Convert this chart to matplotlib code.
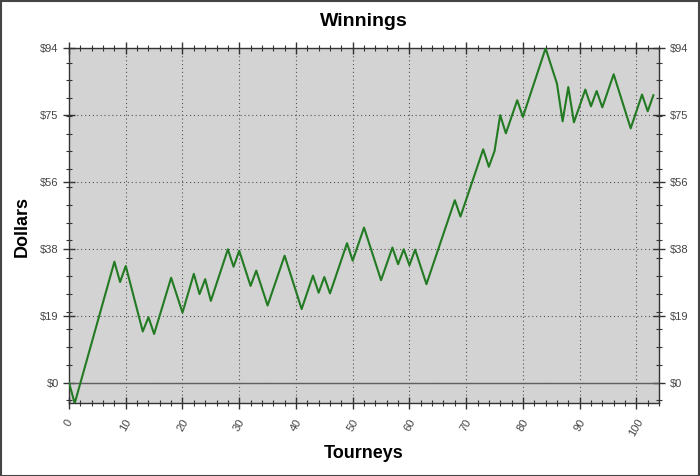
import matplotlib
matplotlib.use('Agg')
import matplotlib.pyplot as plt
from matplotlib.ticker import MultipleLocator, FixedLocator
from matplotlib.patches import Rectangle

# turning points of the winnings line (tourney number, running total in $)
tourneys = [0, 1, 8, 9, 10, 13, 14, 15, 18, 20, 22, 23, 24, 25, 28, 29, 30, 32, 33, 35,
            38, 41, 43, 44, 45, 46, 49, 50, 52, 55, 57, 58, 59, 60, 61, 63, 68, 69, 73, 74,
            75, 76, 77, 79, 80, 84, 86, 87, 88, 89, 91, 92, 93, 94, 96, 99, 101, 102, 103]
winnings = [0, -5.8, 34.0, 28.3, 32.8, 14.4, 18.4, 13.7, 29.5, 19.7, 30.6, 24.9, 29.1, 23.0,
            37.5, 32.6, 37.1, 27.2, 31.5, 21.7, 35.7, 20.7, 30.1, 25.3, 29.7, 25.1, 39.2, 34.3,
            43.6, 28.8, 38.0, 33.3, 37.5, 33.0, 37.4, 27.7, 51.3, 46.7, 65.6, 60.7, 65.1, 75.2,
            70.1, 79.4, 74.7, 94.0, 84.1, 73.5, 83.1, 73.2, 82.4, 77.7, 82.0, 77.4, 86.7, 71.5,
            81.0, 76.3, 80.8]

y_ticks = [0, 18.8, 37.6, 56.4, 75.2, 94]
y_labels = ["$0", "$19", "$38", "$56", "$75", "$94"]
x_ticks = [0, 10, 20, 30, 40, 50, 60, 70, 80, 90, 100]

plt.rcParams['font.family'] = ['Liberation Sans', 'DejaVu Sans']

fig = plt.figure(figsize=(7, 4.76), dpi=100)
ax = fig.add_axes([0.0986, 0.1527, 0.8429, 0.7458])
ax.set_facecolor('#d3d3d3')

# frame around the whole picture
fig.patches.append(Rectangle((0.001, 0.001), 0.997, 0.997, transform=fig.transFigure,
                             fill=False, edgecolor='#444444', linewidth=1.5))

ax.set_xlim(0, 104)
ax.set_ylim(-5.8, 94)

ax.axhline(0, color='#606060', linewidth=1.0, zorder=1)
ax.plot(tourneys, winnings, color='#227a22', linewidth=1.5, zorder=3)

ax.xaxis.set_major_locator(FixedLocator(x_ticks))
ax.xaxis.set_minor_locator(MultipleLocator(2))
ax.yaxis.set_major_locator(FixedLocator(y_ticks))
ax.yaxis.set_minor_locator(MultipleLocator(5))
ax.set_yticklabels(y_labels)
ax.set_xticklabels([str(x) for x in x_ticks], rotation=60, ha='center', va='top')

ax.grid(True, which='major', color='#555555', linestyle=(0, (1, 2.5)), linewidth=0.8)
ax.set_axisbelow(True)

ax.tick_params(which='both', direction='inout', top=True, right=True,
               labelright=True, colors='#333333', labelcolor='#444444', labelsize=8)
ax.tick_params(which='major', length=8, width=1)
ax.tick_params(which='minor', length=5, width=0.8)
ax.tick_params(axis='x', which='both', top=True, direction='inout')
ax.tick_params(axis='x', pad=6)

for s in ax.spines.values():
    s.set_color('#333333')
    s.set_linewidth(1.0)

fig.text(0.52, 0.955, "Winnings", ha='center', va='center', fontsize=14, fontweight='bold')
fig.text(0.52, 0.048, "Tourneys", ha='center', va='center', fontsize=13, fontweight='bold')
fig.text(0.032, 0.525, "Dollars", ha='center', va='center', rotation=90,
         fontsize=13, fontweight='bold')

plt.savefig('out.png', dpi=100)
plt.close()
